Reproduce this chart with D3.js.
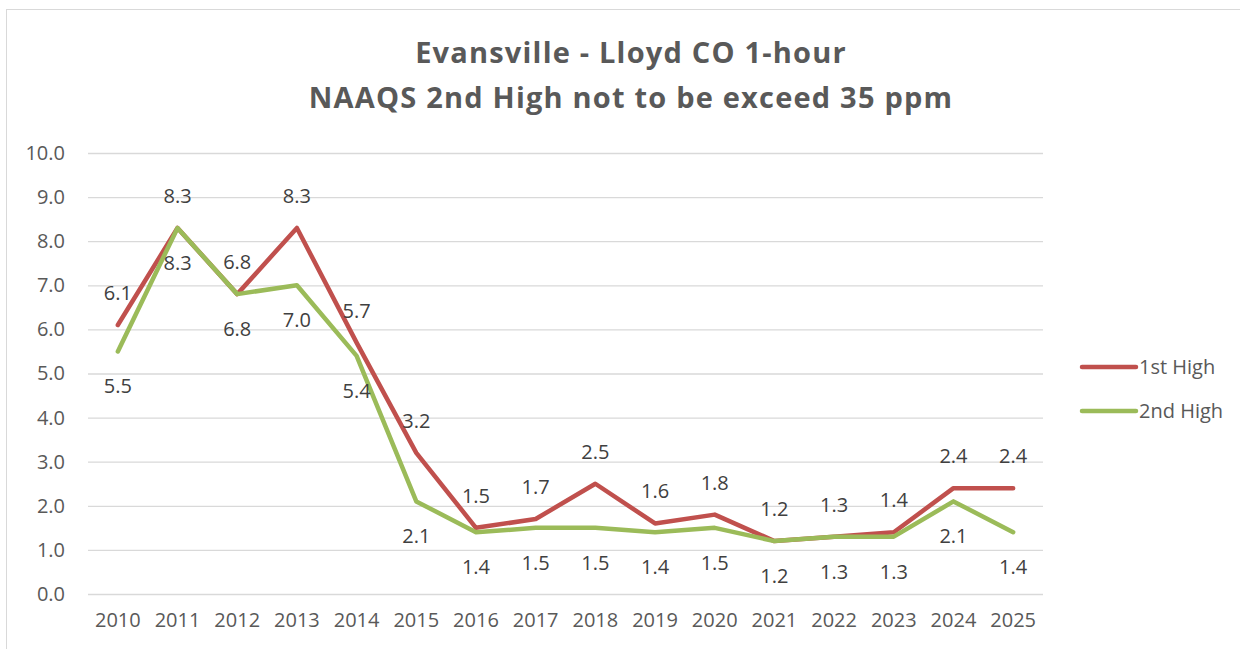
<!DOCTYPE html>
<html>
<head>
<meta charset="utf-8">
<script src="https://cdn.jsdelivr.net/npm/d3@7"></script>
<style>
  body { margin: 0; background: #fff; }
  svg { display: block; font-family: "Open Sans", sans-serif; }
</style>
</head>
<body>
<div id="chart"></div>
<script>
const years = ["2010", "2011", "2012", "2013", "2014", "2015", "2016", "2017",
    "2018", "2019", "2020", "2021", "2022", "2023", "2024", "2025"];
const firstHigh = [6.1, 8.3, 6.8, 8.3, 5.7, 3.2, 1.5, 1.7, 2.5, 1.6, 1.8, 1.2, 1.3, 1.4, 2.4, 2.4];
const secondHigh = [5.5, 8.3, 6.8, 7.0, 5.4, 2.1, 1.4, 1.5, 1.5, 1.4, 1.5, 1.2, 1.3, 1.3, 2.1, 1.4];
const yTicks = [0, 1, 2, 3, 4, 5, 6, 7, 8, 9, 10];
const titleLines = ["Evansville - Lloyd CO 1-hour", "NAAQS 2nd High not to be exceed 35 ppm"];

const width = 1240, height = 649;
const plot = { left: 88, right: 1043, top: 153, bottom: 594 };
const font = "'Open Sans', sans-serif";

const svg = d3.select("#chart").append("svg")
    .attr("width", width)
    .attr("height", height);

// chart frame
svg.append("rect")
    .attr("x", 6.5).attr("y", 9.5)
    .attr("width", 1240).attr("height", 650)
    .attr("fill", "#fff")
    .attr("stroke", "#d9d9d9");

const x = d3.scaleBand().domain(years).range([plot.left, plot.right]);
const y = d3.scaleLinear().domain([0, 10]).range([plot.bottom, plot.top]);

// title
svg.append("g").selectAll("text")
    .data(titleLines)
    .enter().append("text")
    .attr("x", 631)
    .attr("y", (d, i) => 63 + i * 45)
    .attr("text-anchor", "middle")
    .style("font-size", "29px")
    .style("font-weight", "bold")
    .style("letter-spacing", "1.2px")
    .style("fill", "#595959")
    .text(d => d);

// gridlines + y labels
const yAxis = svg.append("g")
    .attr("transform", `translate(${plot.left},0)`)
    .call(d3.axisLeft(y).tickValues(yTicks).tickFormat(d3.format(".1f"))
        .tickSize(-(plot.right - plot.left)).tickPadding(23));
yAxis.select(".domain").remove();
yAxis.selectAll(".tick line").attr("stroke", "#d9d9d9").attr("stroke-width", 1.3);
yAxis.selectAll(".tick text")
    .style("font-size", "20px")
    .style("fill", "#595959")
    .style("font-family", font);

// x labels
const xAxis = svg.append("g")
    .attr("transform", `translate(0,${plot.bottom})`)
    .call(d3.axisBottom(x).tickSize(0).tickPadding(19));
xAxis.select(".domain").remove();
xAxis.selectAll(".tick text")
    .style("font-size", "20px")
    .style("fill", "#595959")
    .style("font-family", font);

const cx = (d, i) => x(years[i]) + x.bandwidth() / 2;
const line = d3.line().x(cx).y(d => y(d));

const series = [
    { name: "1st High", values: firstHigh, color: "#c0504d", dy: -32 },
    { name: "2nd High", values: secondHigh, color: "#9bbb59", dy: 35 }
];

series.forEach(s => {
    svg.append("path")
        .datum(s.values)
        .attr("fill", "none")
        .attr("stroke", s.color)
        .attr("stroke-width", 4.5)
        .attr("stroke-linejoin", "round")
        .attr("stroke-linecap", "round")
        .attr("d", line);
});

series.forEach(s => {
    svg.append("g").selectAll("text")
        .data(s.values)
        .enter().append("text")
        .attr("x", cx)
        .attr("y", d => y(d) + s.dy)
        .attr("dy", "0.35em")
        .attr("text-anchor", "middle")
        .style("font-size", "20px")
        .style("fill", "#404040")
        .text(d => d.toFixed(1));
});

// legend
const legend = svg.append("g").selectAll("g")
    .data(series)
    .enter().append("g")
    .attr("transform", (d, i) => `translate(1082,${367 + i * 44})`);
legend.append("line")
    .attr("x1", 0).attr("x2", 54)
    .attr("stroke", d => d.color)
    .attr("stroke-width", 4.5)
    .attr("stroke-linecap", "round");
legend.append("text")
    .attr("x", 57)
    .attr("dy", "0.35em")
    .style("font-size", "20px")
    .style("fill", "#595959")
    .text(d => d.name);
</script>
</body>
</html>
